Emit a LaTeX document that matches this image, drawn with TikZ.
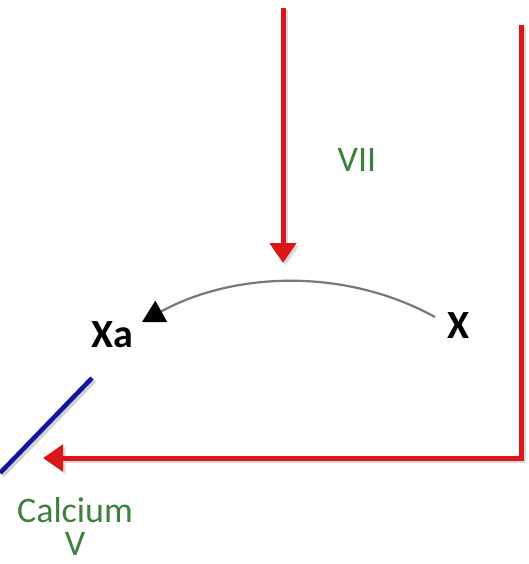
\documentclass[tikz,border=0pt]{standalone}
\usepackage{fontspec}
\setmainfont{Carlito}
\usetikzlibrary{arrows.meta}
\definecolor{arrred}{RGB}{218,22,22}
\definecolor{lblgreen}{RGB}{62,128,62}
\definecolor{navyblue}{RGB}{20,20,160}
\definecolor{curvegray}{RGB}{120,120,120}
\tikzset{
  redarrow/.style={draw=arrred, line width=5pt, -{Triangle[length=20pt,width=26pt]},
    preaction={draw=black!15, line width=5pt, transform canvas={shift={(2.5pt,-2.5pt)}}}},
  bluebar/.style={draw=navyblue, line width=4.5pt,
    preaction={draw=black!18, line width=4.5pt, transform canvas={shift={(2.5pt,-2.5pt)}}}},
  graycurve/.style={draw=curvegray, line width=2.2pt, -{Triangle[length=22pt,width=24pt,color=black]}},
  boldlbl/.style={font=\fontsize{40}{40}\selectfont\bfseries, text=black, inner sep=0pt},
  greenlbl/.style={font=\fontsize{36}{33}\selectfont, text=lblgreen, inner sep=0pt, align=center}
}
\begin{document}
\begin{tikzpicture}[x=1pt,y=-1pt]
\useasboundingbox (0,0) rectangle (529,564);
% labels
\node[greenlbl] (vii) at (357,160) {VII};
\node[boldlbl] (xa) at (112,335) {Xa};
\node[boldlbl] (x) at (459,326) {X};
\node[greenlbl] (calc) at (75,526) {Calcium\\V};
% connector end points
\coordinate (vtop) at (283,8);
\coordinate (vtip) at (283,263);
\coordinate (rtop) at (521,25);
\coordinate (corner) at (521,458);
\coordinate (htip) at (43,458);
\coordinate (cstart) at (435,317);
\coordinate (cend) at (142,322);
\coordinate (btop) at (92,378);
\coordinate (bbot) at (0,473);
% red arrows
\draw[redarrow] (vtop) -- (vtip);
\draw[redarrow, line join=miter] (rtop) -- (corner) -- (htip);
% gray curve X -> Xa
\draw[graycurve] (cstart) .. controls (344,267) and (233,272) .. (cend);
% blue bar
\draw[bluebar] (btop) -- (bbot);
\end{tikzpicture}
\end{document}
